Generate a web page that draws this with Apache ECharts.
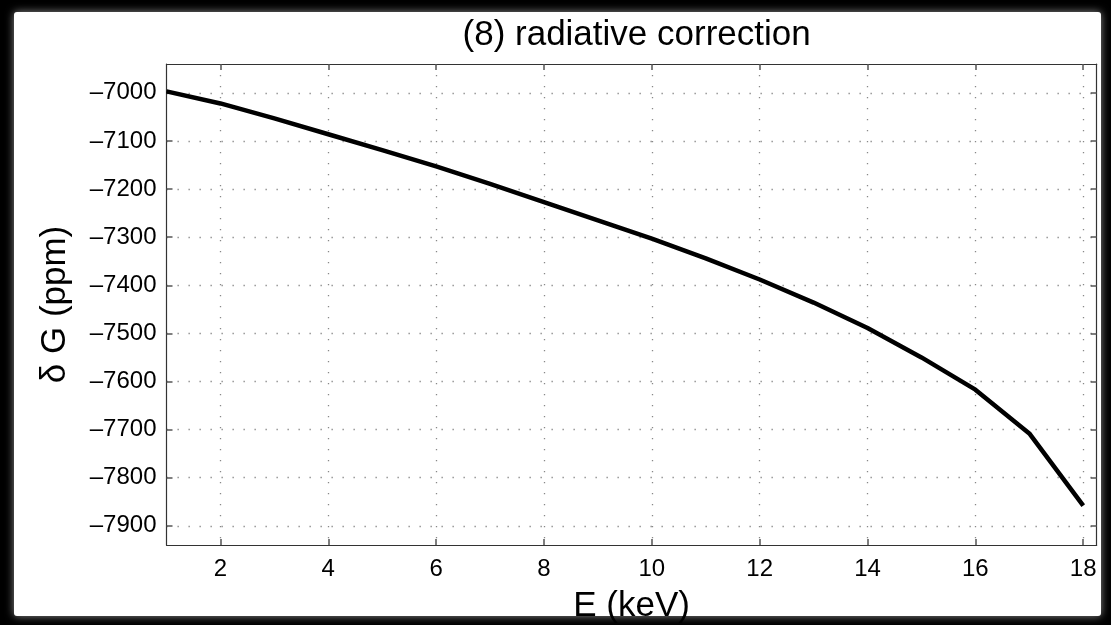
<!DOCTYPE html>
<html>
<head>
<meta charset="utf-8">
<script src="https://cdn.jsdelivr.net/npm/echarts@6/dist/echarts.min.js"></script>
<style>
html,body{margin:0;padding:0;background:#000;}
#c{width:1111px;height:625px;}
</style>
</head>
<body>
<div id="c"></div>
<script>
const energies = [1,2,3,4,5,6,7,8,9,10,11,12,13,14,15,16,17,18];
const deltaG = [-6997,-7022,-7053,-7086,-7119,-7153,-7189,-7227,-7265,-7303,-7344,-7388,-7436,-7489,-7550,-7617,-7708,-7858];
const xTicks = [2,4,6,8,10,12,14,16,18];
const yTicks = [-7900,-7800,-7700,-7600,-7500,-7400,-7300,-7200,-7100,-7000];
const titleText = '(8) radiative correction';
const xName = 'E (keV)';
const yName = 'δ G (ppm)';

const FONT = '"Liberation Sans", Arial, Helvetica, sans-serif';
const fmt = v => (v < 0 ? '\u2013' + Math.abs(v) : String(v));
const tickStyle = {show:true, inside:true, length:6, lineStyle:{color:'#555', width:1.5}};
const gridLine = {show:true, lineStyle:{color:'#888', width:1.3, type:[1.3,9.7]}};

const chart = echarts.init(document.getElementById('c'), null, {renderer:'canvas'});
const option = {
  backgroundColor:'#000',
  animation:false,
  graphic:[{
    type:'rect', z:-100, silent:true,
    shape:{x:14, y:12, width:1087, height:604, r:3},
    style:{fill:'#fff', shadowBlur:8, shadowColor:'rgba(255,255,255,0.55)'}
  }],
  title:{
    text:titleText, left:631.6, top:13, textAlign:'center',
    textStyle:{fontFamily:FONT, fontSize:35, fontWeight:'normal', color:'#000'}
  },
  grid:{left:166.5, top:64, right:14.3, bottom:80, containLabel:false, outerBoundsMode:'none'},
  xAxis:[{
    type:'value', min:1, max:18.25, position:'bottom',
    name:xName, nameLocation:'middle', nameGap:44,
    nameTextStyle:{fontFamily:FONT, fontSize:35, color:'#000'},
    axisLine:{show:true, lineStyle:{color:'#333', width:1.2}},
    axisTick:Object.assign({customValues:xTicks}, tickStyle),
    axisLabel:{customValues:xTicks, formatter:fmt, fontFamily:FONT, fontSize:24, color:'#000', margin:12},
    splitLine:Object.assign({customValues:xTicks}, gridLine)
  },{
    type:'value', min:1, max:18.25, position:'top',
    axisLine:{show:true, lineStyle:{color:'#333', width:1.2}},
    axisTick:Object.assign({customValues:xTicks}, tickStyle),
    axisLabel:{show:false},
    splitLine:{show:false}
  }],
  yAxis:[{
    type:'value', min:-7940, max:-6940, position:'left',
    name:yName, nameLocation:'middle', nameGap:94, nameRotate:90,
    nameTextStyle:{fontFamily:FONT, fontSize:35, color:'#000'},
    axisLine:{show:true, lineStyle:{color:'#333', width:1.2}},
    axisTick:Object.assign({customValues:yTicks}, tickStyle),
    axisLabel:{customValues:yTicks, formatter:fmt, fontFamily:FONT, fontSize:24, color:'#000', margin:10},
    splitLine:Object.assign({customValues:yTicks}, gridLine)
  },{
    type:'value', min:-7940, max:-6940, position:'right',
    axisLine:{show:true, lineStyle:{color:'#333', width:1.2}},
    axisTick:Object.assign({customValues:yTicks}, tickStyle),
    axisLabel:{show:false},
    splitLine:{show:false}
  }],
  series:[{
    type:'line', xAxisIndex:0, yAxisIndex:0,
    data:energies.map((e,i)=>[e, deltaG[i]]),
    showSymbol:false, symbol:'none', smooth:false, clip:true,
    lineStyle:{color:'#000', width:4.5, join:'round'}
  }]
};
chart.setOption(option);
</script>
</body>
</html>
